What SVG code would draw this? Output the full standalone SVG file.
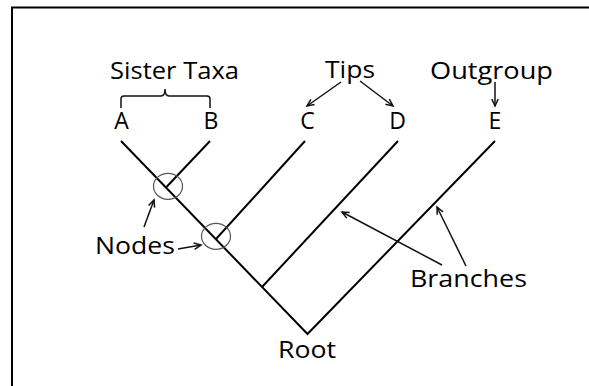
<svg xmlns="http://www.w3.org/2000/svg" width="589" height="386" viewBox="0 0 589 386">
  <style>
    .lbl { font-family: "Open Sans", "Liberation Sans", sans-serif; font-size: 23px; fill: #000; }
    .tip { text-anchor: middle; }
    .branch { stroke: #000; stroke-width: 2; fill: none; stroke-linecap: butt; }
    .pointer { stroke: #111; stroke-width: 1.5; fill: none; }
    .ring { stroke: #555; stroke-width: 1.2; fill: none; }
  </style>
  <defs>
    <marker id="arrow" markerUnits="userSpaceOnUse" markerWidth="10" markerHeight="10" refX="8" refY="4" orient="auto">
      <path d="M1,0.8 L8,4 L1,7.2" fill="none" stroke="#111" stroke-width="1.5"/>
    </marker>
  </defs>

  <rect width="589" height="386" fill="#fff"/>
  <!-- frame -->
  <rect x="12" y="7.5" width="620" height="420" fill="none" stroke="#000" stroke-width="2"/>

  <!-- tree branches -->
  <g id="connectors">
    <path class="branch" d="M121,141 L307.5,334 L495,141"/>
    <path class="branch" d="M210,141 L165.5,188"/>
    <path class="branch" d="M305,141 L216,239"/>
    <path class="branch" d="M398,141 L262,287"/>
    <!-- sister taxa brace -->
    <path class="pointer" d="M121,108 L121,99 Q121,96 124,96 L161,96 Q165,96 165,89 Q165,96 169,96 L207,96 Q210,96 210,99 L210,108"/>
    <!-- pointer arrows -->
    <line class="pointer" x1="341" y1="82" x2="307" y2="106" marker-end="url(#arrow)"/>
    <line class="pointer" x1="360" y1="81" x2="393" y2="106" marker-end="url(#arrow)"/>
    <line class="pointer" x1="495" y1="82" x2="495" y2="106" marker-end="url(#arrow)"/>
    <line class="pointer" x1="144" y1="227" x2="154" y2="200" marker-end="url(#arrow)"/>
    <line class="pointer" x1="178" y1="249" x2="201" y2="245" marker-end="url(#arrow)"/>
    <line class="pointer" x1="442" y1="265" x2="342" y2="212" marker-end="url(#arrow)"/>
    <line class="pointer" x1="466" y1="266" x2="437" y2="207" marker-end="url(#arrow)"/>
  </g>

  <!-- internal nodes -->
  <g id="node-ab">
    <ellipse class="ring" cx="168" cy="186.3" rx="14.5" ry="13"/>
  </g>
  <g id="node-abc">
    <ellipse class="ring" cx="216" cy="236.3" rx="14.5" ry="13"/>
  </g>

  <!-- tips -->
  <g id="tip-a"><text class="lbl tip" x="121.5" y="129">A</text></g>
  <g id="tip-b"><text class="lbl tip" x="211" y="129">B</text></g>
  <g id="tip-c"><text class="lbl tip" x="307.5" y="129">C</text></g>
  <g id="tip-d"><text class="lbl tip" x="397.7" y="129">D</text></g>
  <g id="tip-e"><text class="lbl tip" x="495" y="129">E</text></g>

  <!-- annotations -->
  <g id="label-sister-taxa"><text class="lbl" x="110" y="79" textLength="129" lengthAdjust="spacingAndGlyphs">Sister Taxa</text></g>
  <g id="label-tips"><text class="lbl" x="325" y="78" textLength="50" lengthAdjust="spacingAndGlyphs">Tips</text></g>
  <g id="label-outgroup"><text class="lbl" x="430" y="79" textLength="123" lengthAdjust="spacingAndGlyphs">Outgroup</text></g>
  <g id="label-nodes"><text class="lbl" x="95" y="254" textLength="80" lengthAdjust="spacingAndGlyphs">Nodes</text></g>
  <g id="label-branches"><text class="lbl" x="410" y="287" textLength="117" lengthAdjust="spacingAndGlyphs">Branches</text></g>
  <g id="label-root"><text class="lbl" x="278" y="358" textLength="58" lengthAdjust="spacingAndGlyphs">Root</text></g>
</svg>
